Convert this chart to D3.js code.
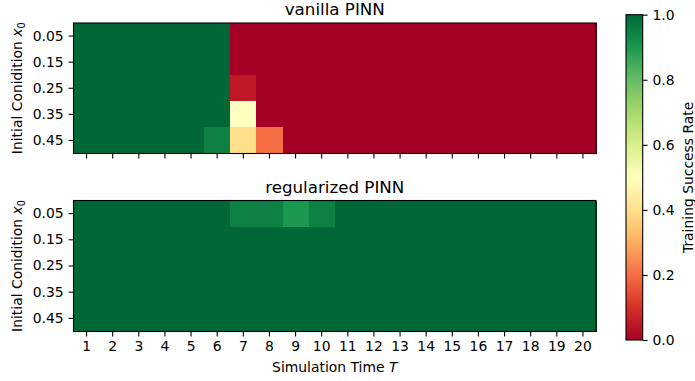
<!DOCTYPE html>
<html><head><meta charset="utf-8">
<script src="https://cdn.jsdelivr.net/npm/d3@7"></script>
<style>
body{margin:0;background:#fff;}
text{font-family:"DejaVu Sans",sans-serif;fill:#000;}
</style></head>
<body><svg id="chart" width="695" height="381"></svg>
<script>
// ---- data ----
const times = d3.range(1, 21);
const x0Labels = ["0.05", "0.15", "0.25", "0.35", "0.45"];
const vanilla = [
  [1,1,1,1,1,1, 0,0,0,0,0,0,0,0,0,0,0,0,0,0],
  [1,1,1,1,1,1, 0,0,0,0,0,0,0,0,0,0,0,0,0,0],
  [1,1,1,1,1,1, 0.05,0,0,0,0,0,0,0,0,0,0,0,0,0],
  [1,1,1,1,1,1, 0.5,0,0,0,0,0,0,0,0,0,0,0,0,0],
  [1,1,1,1,1,0.95, 0.4,0.2,0,0,0,0,0,0,0,0,0,0,0,0]
];
const regularized = [
  [1,1,1,1,1,1, 0.95,0.95,0.9,0.95,1,1,1,1,1,1,1,1,1,1],
  [1,1,1,1,1,1, 1,1,1,1,1,1,1,1,1,1,1,1,1,1],
  [1,1,1,1,1,1, 1,1,1,1,1,1,1,1,1,1,1,1,1,1],
  [1,1,1,1,1,1, 1,1,1,1,1,1,1,1,1,1,1,1,1,1],
  [1,1,1,1,1,1, 1,1,1,1,1,1,1,1,1,1,1,1,1,1]
];
const cbTicks = [0, 0.2, 0.4, 0.6, 0.8, 1.0];
const rdylgn = ["#a50026","#d73027","#f46d43","#fdae61","#fee08b","#ffffbf","#d9ef8b","#a6d96a","#66bd63","#1a9850","#006837"];

// ---- drawing ----
const svg = d3.select("#chart");
const color = d3.scaleLinear().domain(d3.range(11).map(i => i / 10)).range(rdylgn).interpolate(d3.interpolateRgb);

const left = 73.5, right = 596;
const x = d3.scaleBand().domain(times).range([left, right]).paddingInner(0).paddingOuter(0);

const panels = [
  {title: "vanilla PINN", data: vanilla, top: 23, bottom: 153.5, labels: false},
  {title: "regularized PINN", data: regularized, top: 200.5, bottom: 331.5, labels: true}
];

const fs = 13.9;

panels.forEach(p => {
  const y = d3.scaleBand().domain(x0Labels).range([p.top, p.bottom]);
  const g = svg.append("g");
  const cells = [];
  p.data.forEach((row, i) => row.forEach((v, j) => cells.push({r: x0Labels[i], c: times[j], v})));
  g.append("g").attr("shape-rendering", "crispEdges")
    .selectAll("rect.cell").data(cells).join("rect")
    .attr("class", "cell")
    .attr("x", d => x(d.c)).attr("y", d => y(d.r))
    .attr("width", x.bandwidth() + 0.6).attr("height", y.bandwidth() + 0.6)
    .attr("fill", d => color(d.v));
  // frame
  g.append("rect").attr("x", left).attr("y", p.top).attr("width", right - left).attr("height", p.bottom - p.top)
    .attr("fill", "none").attr("stroke", "#000").attr("stroke-width", 1.1);
  // y axis
  const ya = g.append("g").attr("transform", `translate(${left},0)`)
    .call(d3.axisLeft(y).tickSize(4.9).tickPadding(4.9));
  ya.select(".domain").remove();
  ya.selectAll(".tick line").attr("stroke-width", 1.1);
  ya.selectAll(".tick text").style("font-size", fs + "px").style("font-family", "DejaVu Sans");
  // x axis
  const xa = g.append("g").attr("transform", `translate(0,${p.bottom})`)
    .call(d3.axisBottom(x).tickSize(4.9).tickPadding(4.9));
  xa.select(".domain").remove();
  xa.selectAll(".tick line").attr("stroke-width", 1.1);
  xa.selectAll(".tick text").style("font-size", fs + "px").style("font-family", "DejaVu Sans");
  if (!p.labels) xa.selectAll(".tick text").remove();
  // title
  g.append("text").attr("x", (left + right) / 2).attr("y", p.top - 7.6)
    .attr("text-anchor", "middle").style("font-size", "16.7px").text(p.title);
  // y label
  const yl = g.append("text")
    .attr("transform", `translate(22,${(p.top + p.bottom) / 2}) rotate(-90)`)
    .attr("text-anchor", "middle").style("font-size", fs + "px");
  yl.append("tspan").text("Initial Conidition ");
  yl.append("tspan").style("font-style", "italic").text("x");
  yl.append("tspan").attr("dy", 3).style("font-size", "9.7px").text("0");
});

// x label
const xl = svg.append("text").attr("x", (left + right) / 2).attr("y", 372)
  .attr("text-anchor", "middle").style("font-size", fs + "px");
xl.append("tspan").text("Simulation Time ");
xl.append("tspan").style("font-style", "italic").text("T");

// colorbar
const cbX = 626, cbW = 16.7, cbTop = 14.7, cbBot = 340;
const defs = svg.append("defs");
const grad = defs.append("linearGradient").attr("id", "cbgrad")
  .attr("x1", 0).attr("y1", 1).attr("x2", 0).attr("y2", 0);
rdylgn.forEach((c, i) => grad.append("stop").attr("offset", i / 10).attr("stop-color", c));
svg.append("rect").attr("x", cbX).attr("y", cbTop).attr("width", cbW).attr("height", cbBot - cbTop)
  .attr("fill", "url(#cbgrad)").attr("stroke", "#000").attr("stroke-width", 1.1);
const cy = d3.scaleLinear().domain([0, 1]).range([cbBot, cbTop]);
const ca = svg.append("g").attr("transform", `translate(${cbX + cbW},0)`)
  .call(d3.axisRight(cy).tickValues(cbTicks).tickFormat(d3.format(".1f")).tickSize(4.9).tickPadding(4.9));
ca.select(".domain").remove();
ca.selectAll(".tick line").attr("stroke-width", 1.1);
ca.selectAll(".tick text").style("font-size", fs + "px").style("font-family", "DejaVu Sans");
svg.append("text").attr("transform", `translate(693,${(cbTop + cbBot) / 2}) rotate(-90)`)
  .attr("text-anchor", "middle").style("font-size", fs + "px").text("Training Success Rate");
</script></body></html>
